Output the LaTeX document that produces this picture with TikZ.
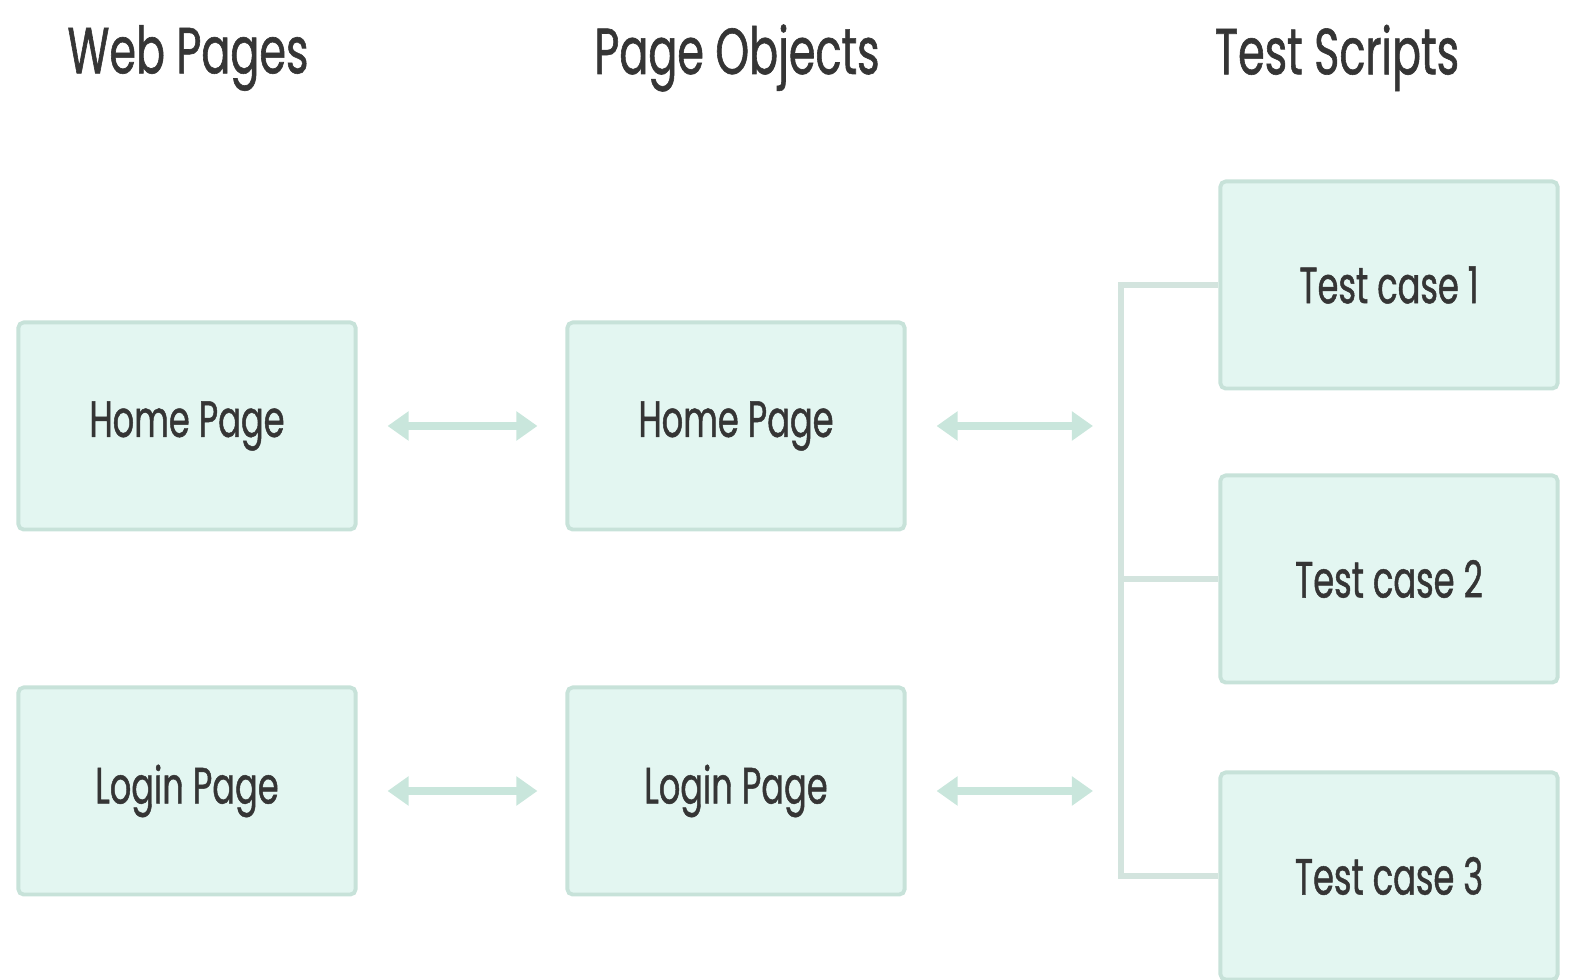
\documentclass[tikz,border=0pt]{standalone}
\usepackage{fontspec}
\setmainfont{Poppins}[FakeStretch=0.66,FakeBold=0.9]
\usetikzlibrary{arrows.meta}
\definecolor{boxfill}{HTML}{E3F6F1}
\definecolor{boxline}{HTML}{C7E2D9}
\definecolor{linkcol}{HTML}{C9E6DC}
\definecolor{buscol}{HTML}{D3E4DE}
\definecolor{txt}{HTML}{353535}
\tikzset{
	pagebox/.style={draw=boxline,fill=boxfill,line width=1.1pt,rounded corners=1.5pt,minimum width=3.37cm,minimum height=2.07cm,text=txt,font=\fontsize{14.5}{16}\selectfont},
	coltitle/.style={text=txt,font=\fontsize{18.5}{20}\selectfont},
	link/.style={draw=linkcol,line width=2pt,{Triangle[width=8pt,length=6pt]}-{Triangle[width=8pt,length=6pt]},shorten <=0.3cm,shorten >=0.28cm},
	bus/.style={draw=buscol,line width=1.6pt}
}
\begin{document}
\begin{tikzpicture}[line cap=butt,line join=miter,x=0.01cm,y=-0.01cm]
		\useasboundingbox (0,0) rectangle (1575,980);
		\node[coltitle] (tweb) at (188,58) {Web Pages};
		\node[coltitle] (tpo) at (737,58) {Page Objects};
		\node[coltitle] (tts) at (1337,58) {Test Scripts};
		\node[pagebox] (wh) at (187,426) {Home Page};
		\node[pagebox] (wl) at (187,791) {Login Page};
		\node[pagebox] (ph) at (736,426) {Home Page};
		\node[pagebox] (pl) at (736,791) {Login Page};
		\node[pagebox] (tc1) at (1389,285) {Test case 1};
		\node[pagebox] (tc2) at (1389,579) {Test case 2};
		\node[pagebox] (tc3) at (1389,876) {Test case 3};
		\coordinate (hub) at (1121,580);
		\draw[bus] (tc1.west) -| (hub) |- (tc3.west);
		\draw[bus] (tc2.west) -- (tc2.west -| hub);
		\draw[link] (wh.east) -- (ph.west);
		\draw[link] (wl.east) -- (pl.west);
		\draw[link] (ph.east) -- (ph.east -| hub);
		\draw[link] (pl.east) -- (pl.east -| hub);
	\end{tikzpicture}
\end{document}
